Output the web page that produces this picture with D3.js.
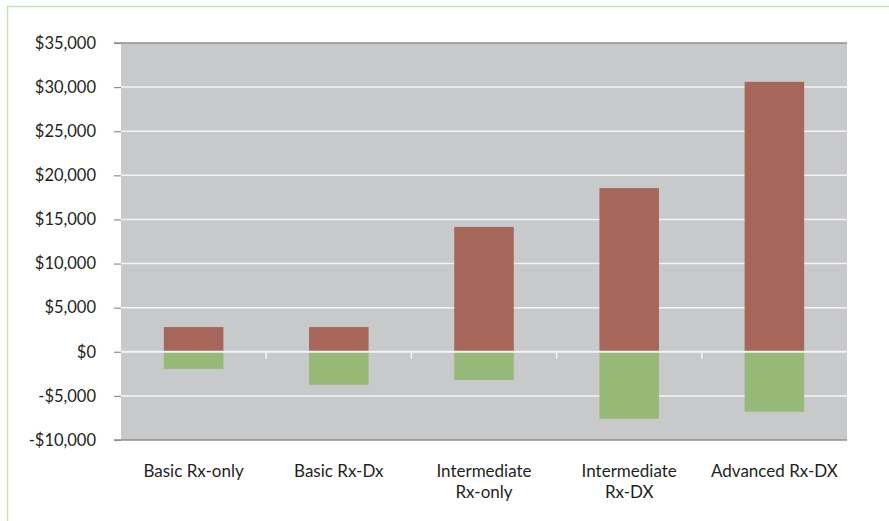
<!DOCTYPE html>
<html>
<head>
<meta charset="utf-8">
<script src="https://cdn.jsdelivr.net/npm/d3@7"></script>
<style>
  body { margin: 0; background: #fff; }
  text { font-family: Lato, "Open Sans", sans-serif; fill: #231f20; }
</style>
</head>
<body>
<div id="chart"></div>
<script>
"use strict";

const categories = ["Basic Rx-only", "Basic Rx-Dx", "Intermediate Rx-only", "Intermediate Rx-DX", "Advanced Rx-DX"];
const categoryLines = [["Basic Rx-only"], ["Basic Rx-Dx"], ["Intermediate", "Rx-only"], ["Intermediate", "Rx-DX"], ["Advanced Rx-DX"]];
const positiveValues = [2800, 2800, 14150, 18550, 30600];
const negativeValues = [-1950, -3750, -3200, -7600, -6800];
const yTicks = [-10000, -5000, 0, 5000, 10000, 15000, 20000, 25000, 30000, 35000];

const plot = {
    width: 889,
    height: 521,
    left: 121,
    right: 847,
    top: 43,
    bottom: 440
}

let svg = d3.select("#chart")
    .append("svg")
    .attr("width", plot.width)
    .attr("height", plot.height);

// light green frame around the figure
svg.append("rect")
    .attr("x", 7.5)
    .attr("y", 6.5)
    .attr("width", plot.width + 20)
    .attr("height", plot.height + 20)
    .attr("fill", "none")
    .attr("stroke", "#c9e2b8")
    .attr("stroke-width", 1.5);

let xScale = d3.scaleBand()
    .domain(categories)
    .range([plot.left, plot.right])
    .paddingInner(0.59)
    .paddingOuter(0.295);

let yScale = d3.scaleLinear()
    .domain([-10000, 35000])
    .range([plot.bottom, plot.top]);

// plot background
svg.append("rect")
    .attr("x", plot.left)
    .attr("y", plot.top)
    .attr("width", plot.right - plot.left)
    .attr("height", plot.bottom - plot.top)
    .attr("fill", "#c8c9cb");

// gridlines
svg.selectAll(".grid")
    .data(yTicks.filter(d => d != 0 && d != 35000 && d != -10000))
    .enter()
    .append("line")
    .attr("x1", plot.left)
    .attr("x2", plot.right)
    .attr("y1", d => yScale(d))
    .attr("y2", d => yScale(d))
    .attr("stroke", "#f4f4f4")
    .attr("stroke-width", 1.5);

// bars
svg.selectAll(".pos")
    .data(categories)
    .enter()
    .append("rect")
    .attr("x", d => xScale(d))
    .attr("width", xScale.bandwidth())
    .attr("y", (d, i) => yScale(positiveValues[i]))
    .attr("height", (d, i) => yScale(0) - yScale(positiveValues[i]))
    .attr("fill", "#a66659");

svg.selectAll(".neg")
    .data(categories)
    .enter()
    .append("rect")
    .attr("x", d => xScale(d))
    .attr("width", xScale.bandwidth())
    .attr("y", yScale(0))
    .attr("height", (d, i) => yScale(negativeValues[i]) - yScale(0))
    .attr("fill", "#97b978");

// zero line with category ticks
svg.append("line")
    .attr("x1", plot.left)
    .attr("x2", plot.right)
    .attr("y1", yScale(0))
    .attr("y2", yScale(0))
    .attr("stroke", "#f4f4f4")
    .attr("stroke-width", 2);

let step = xScale.step();
svg.selectAll(".ctick")
    .data(categories.slice(1))
    .enter()
    .append("line")
    .attr("x1", d => xScale(d) - xScale.paddingInner() * step / 2)
    .attr("x2", d => xScale(d) - xScale.paddingInner() * step / 2)
    .attr("y1", yScale(0))
    .attr("y2", yScale(0) + 7)
    .attr("stroke", "#f4f4f4")
    .attr("stroke-width", 1.5);

// top and bottom frame lines
svg.append("line")
    .attr("x1", plot.left - 7).attr("x2", plot.right)
    .attr("y1", plot.top).attr("y2", plot.top)
    .attr("stroke", "#8f8f8f").attr("stroke-width", 1.5);
svg.append("line")
    .attr("x1", plot.left - 7).attr("x2", plot.right)
    .attr("y1", plot.bottom).attr("y2", plot.bottom)
    .attr("stroke", "#8f8f8f").attr("stroke-width", 1.5);

// y axis
let yAxis = d3.axisLeft(yScale)
    .tickValues(yTicks)
    .tickSize(7)
    .tickPadding(18)
    .tickFormat(d => (d < 0 ? "-$" : "$") + d3.format(",")(Math.abs(d)));

let gy = svg.append("g")
    .attr("transform", "translate(" + plot.left + ",0)")
    .call(yAxis);
gy.select(".domain").remove();
gy.selectAll(".tick line").attr("stroke", "#8f8f8f").attr("stroke-width", 1.2);
gy.selectAll(".tick text")
    .style("font-size", "16.5px")
    .attr("font-family", "Lato, sans-serif")
    .attr("fill", "#231f20");

// category labels
let labels = svg.selectAll(".xlabel")
    .data(categories)
    .enter()
    .append("text")
    .attr("text-anchor", "middle")
    .style("font-size", "17px")
    .attr("x", d => xScale(d) + xScale.bandwidth() / 2)
    .attr("y", 477);

labels.selectAll("tspan")
    .data((d, i) => categoryLines[i])
    .enter()
    .append("tspan")
    .attr("x", function () { return d3.select(this.parentNode).attr("x"); })
    .attr("dy", (d, i) => i == 0 ? 0 : 21)
    .text(d => d);
</script>
</body>
</html>
